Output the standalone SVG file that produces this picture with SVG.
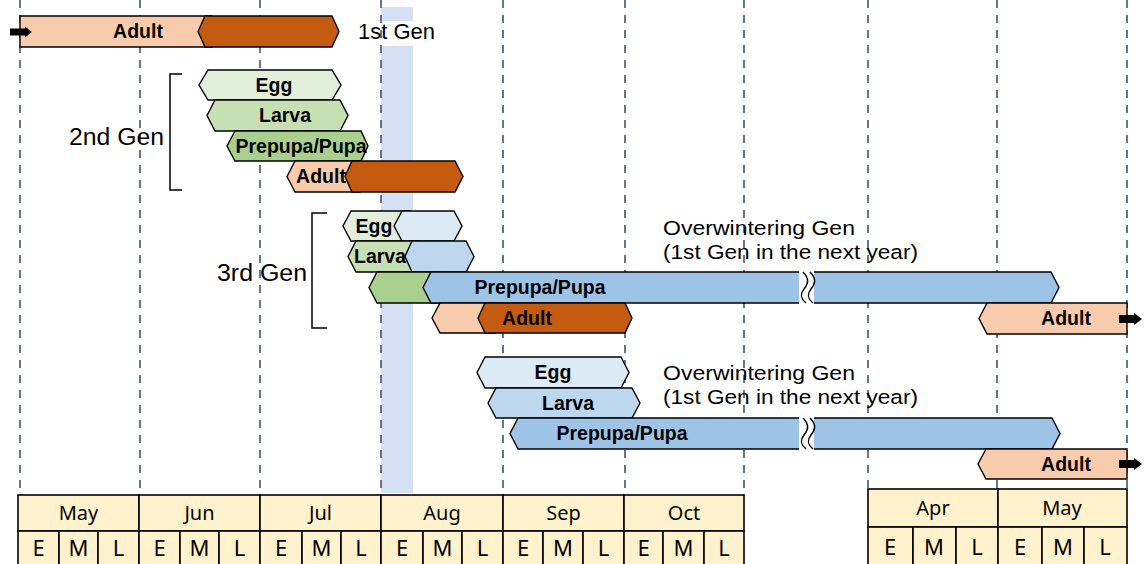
<svg xmlns="http://www.w3.org/2000/svg" width="1146" height="564" viewBox="0 0 1146 564">
<style>
.bar{stroke:#000;stroke-width:1.4;stroke-linejoin:miter}
.lo{fill:#F8CBAD}.do{fill:#C55A11}
.g1{fill:#E2EFDA}.g2{fill:#C6E0B4}.g3{fill:#A9D08E}
.b1{fill:#DDEBF7}.b2{fill:#BDD7EE}.b3{fill:#9DC3E6}
.lbl{font-family:"Liberation Sans",Arial,sans-serif;font-weight:bold;font-size:19.5px;text-anchor:middle;fill:#000}
.gen{font-family:"Liberation Sans",Arial,sans-serif;font-size:22px;fill:#000}
.gen2{font-family:"Liberation Sans",Arial,sans-serif;font-size:23.5px;fill:#000}
.ow{font-family:"Liberation Sans",Arial,sans-serif;font-size:20.5px;fill:#000}
.mon{font-family:"Noto Sans","Open Sans",sans-serif;font-size:20px;text-anchor:middle;fill:#000}
.eml{font-family:"Noto Sans","Open Sans",sans-serif;font-size:22px;text-anchor:middle;fill:#000}
.dash{stroke:#44546A;stroke-width:1.6;stroke-dasharray:8 7;fill:none}
.cell{fill:#FFF2CC;stroke:#000;stroke-width:1.6}
.brk{fill:none;stroke:#000;stroke-width:1.5}
.wave{fill:none;stroke:#000;stroke-width:1.5}
</style>
<rect x="0" y="0" width="1146" height="564" fill="#fff"/>
<g id="band">
<rect x="381" y="7" width="32" height="486" fill="#D6E0F3"/>
<rect x="352" y="21" width="90" height="25" fill="#fff"/>
</g>
<g id="gridlines">
<line class="dash" x1="20" y1="0" x2="20" y2="495"/>
<line class="dash" x1="140" y1="0" x2="140" y2="495"/>
<line class="dash" x1="260" y1="0" x2="260" y2="495"/>
<line class="dash" x1="381" y1="0" x2="381" y2="495"/>
<line class="dash" x1="503" y1="0" x2="503" y2="495"/>
<line class="dash" x1="625" y1="0" x2="625" y2="495"/>
<line class="dash" x1="744" y1="0" x2="744" y2="495"/>
<line class="dash" x1="868" y1="0" x2="868" y2="489"/>
<line class="dash" x1="997" y1="0" x2="997" y2="489"/>
<line class="dash" x1="1127" y1="0" x2="1127" y2="489"/>
</g>
<g id="gen1">
<polygon class="bar lo" points="20,16 212,16 212,47 20,47"/>
<polygon class="bar do" points="198,31.5 205,16 332,16 339,31.5 332,47 205,47"/>
<text class="lbl" x="138" y="38">Adult</text>
<text class="gen" x="358" y="39">1st Gen</text>
</g>
<g id="gen2">
<path class="brk" d="M182,74 H170 V190 H182"/>
<text class="gen2" x="69" y="145" textLength="95" lengthAdjust="spacingAndGlyphs">2nd Gen</text>
<polygon class="bar g1" points="199,85 208,70 332,70 341,85 332,100 208,100"/>
<text class="lbl" x="274" y="92">Egg</text>
<polygon class="bar g2" points="207,115.5 215,100 340,100 348,115.5 340,131 215,131"/>
<text class="lbl" x="285" y="122">Larva</text>
<polygon class="bar g3" points="227,146 235,131 361,131 368,146 361,161 235,161"/>
<text class="lbl" x="301" y="153">Prepupa/Pupa</text>
<polygon class="bar lo" points="287,176.5 295,161 360,161 360,192 295,192"/>
<text class="lbl" x="321" y="183">Adult</text>
<polygon class="bar do" points="345,176.5 352,161 455,161 463,176.5 455,192 352,192"/>
</g>
<g id="gen3">
<path class="brk" d="M327,213 H312 V328 H327"/>
<text class="gen2" x="217" y="281" textLength="90" lengthAdjust="spacingAndGlyphs">3rd Gen</text>
<polygon class="bar g1" points="343,226 351,211 410,211 410,241 351,241"/>
<text class="lbl" x="374" y="233">Egg</text>
<polygon class="bar b1" points="394,226 402,211 454,211 462,226 454,241 402,241"/>
<polygon class="bar g2" points="348,256.5 356,241 420,241 420,272 356,272"/>
<text class="lbl" x="380" y="263">Larva</text>
<polygon class="bar b2" points="405,256.5 412,241 466,241 474,256.5 466,272 412,272"/>
<polygon class="bar g3" points="369,287.5 377,272 440,272 440,303 377,303"/>
<polygon class="bar b3" points="423,287.5 431,272 1051,272 1059,287.5 1051,303 431,303"/>
<rect x="799" y="270" width="15" height="35" fill="#fff"/>
<path class="wave" d="M803,272 C810,279 808,284 804,289 C800,294 800,298 806,303"/>
<path class="wave" d="M810,272 C817,279 815,284 811,289 C807,294 807,298 813,303"/>
<text class="lbl" x="540" y="294">Prepupa/Pupa</text>
<polygon class="bar lo" points="432,318 440,303 495,303 495,333 440,333"/>
<polygon class="bar do" points="478,318 485,303 625,303 632,318 625,333 485,333"/>
<text class="lbl" x="527" y="325">Adult</text>
<text class="ow" x="663" y="235" textLength="192" lengthAdjust="spacingAndGlyphs">Overwintering Gen</text>
<text class="ow" x="663" y="259" textLength="255" lengthAdjust="spacingAndGlyphs">(1st Gen in the next year)</text>
<polygon class="bar lo" points="979,318.5 987,303 1127,303 1127,334 987,334"/>
<text class="lbl" x="1066" y="325">Adult</text>
</g>
<g id="gen4">
<polygon class="bar b1" points="477,372.5 485,357 621,357 629,372.5 621,388 485,388"/>
<text class="lbl" x="553" y="379">Egg</text>
<polygon class="bar b2" points="488,403 496,388 632,388 640,403 632,418 496,418"/>
<text class="lbl" x="568" y="410">Larva</text>
<polygon class="bar b3" points="510,433.5 518,418 1052,418 1060,433.5 1052,449 518,449"/>
<rect x="799" y="416" width="15" height="35" fill="#fff"/>
<path class="wave" d="M803,418 C810,425 808,430 804,435 C800,440 800,444 806,449"/>
<path class="wave" d="M810,418 C817,425 815,430 811,435 C807,440 807,444 813,449"/>
<text class="lbl" x="622" y="440">Prepupa/Pupa</text>
<text class="ow" x="663" y="380" textLength="192" lengthAdjust="spacingAndGlyphs">Overwintering Gen</text>
<text class="ow" x="663" y="404" textLength="255" lengthAdjust="spacingAndGlyphs">(1st Gen in the next year)</text>
<polygon class="bar lo" points="978,464 986,449 1127,449 1127,479 986,479"/>
<text class="lbl" x="1066" y="471">Adult</text>
</g>
<g id="connectors">
<polygon fill="#000" points="10,28.5 25,28.5 25,26.5 32,32 25,37.5 25,35.5 10,35.5"/>
<polygon fill="#000" points="1119,315 1134,315 1134,313 1142,319 1134,325 1134,323 1119,323"/>
<polygon fill="#000" points="1119,460 1134,460 1134,458 1142,464 1134,470 1134,468 1119,468"/>
</g>
<g id="axis-left">
<rect class="cell" x="18" y="495" width="121" height="36"/>
<rect class="cell" x="139" y="495" width="121" height="36"/>
<rect class="cell" x="260" y="495" width="121" height="36"/>
<rect class="cell" x="381" y="495" width="122" height="36"/>
<rect class="cell" x="503" y="495" width="121" height="36"/>
<rect class="cell" x="624" y="495" width="120" height="36"/>
<rect class="cell" x="18" y="531" width="41" height="36"/>
<rect class="cell" x="59" y="531" width="39" height="36"/>
<rect class="cell" x="98" y="531" width="41" height="36"/>
<rect class="cell" x="139" y="531" width="41" height="36"/>
<rect class="cell" x="180" y="531" width="39" height="36"/>
<rect class="cell" x="219" y="531" width="41" height="36"/>
<rect class="cell" x="260" y="531" width="42" height="36"/>
<rect class="cell" x="302" y="531" width="39" height="36"/>
<rect class="cell" x="341" y="531" width="40" height="36"/>
<rect class="cell" x="381" y="531" width="42" height="36"/>
<rect class="cell" x="423" y="531" width="39" height="36"/>
<rect class="cell" x="462" y="531" width="41" height="36"/>
<rect class="cell" x="503" y="531" width="40" height="36"/>
<rect class="cell" x="543" y="531" width="40" height="36"/>
<rect class="cell" x="583" y="531" width="41" height="36"/>
<rect class="cell" x="624" y="531" width="39" height="36"/>
<rect class="cell" x="663" y="531" width="41" height="36"/>
<rect class="cell" x="704" y="531" width="40" height="36"/>
<text class="mon" x="78.5" y="520">May</text>
<text class="mon" x="199.5" y="520">Jun</text>
<text class="mon" x="320.5" y="520">Jul</text>
<text class="mon" x="442" y="520">Aug</text>
<text class="mon" x="563.5" y="520">Sep</text>
<text class="mon" x="684" y="520">Oct</text>
<text class="eml" x="38.5" y="556">E</text><text class="eml" x="78.5" y="556">M</text><text class="eml" x="118.5" y="556">L</text>
<text class="eml" x="159.5" y="556">E</text><text class="eml" x="199.5" y="556">M</text><text class="eml" x="239.5" y="556">L</text>
<text class="eml" x="281" y="556">E</text><text class="eml" x="321.5" y="556">M</text><text class="eml" x="361" y="556">L</text>
<text class="eml" x="402" y="556">E</text><text class="eml" x="442.5" y="556">M</text><text class="eml" x="482.5" y="556">L</text>
<text class="eml" x="523" y="556">E</text><text class="eml" x="563" y="556">M</text><text class="eml" x="603.5" y="556">L</text>
<text class="eml" x="643.5" y="556">E</text><text class="eml" x="683.5" y="556">M</text><text class="eml" x="724" y="556">L</text>
</g>
<g id="axis-right">
<rect class="cell" x="868" y="489" width="130" height="38"/>
<rect class="cell" x="998" y="489" width="129" height="38"/>
<rect class="cell" x="868" y="527" width="45" height="40"/>
<rect class="cell" x="913" y="527" width="43" height="40"/>
<rect class="cell" x="956" y="527" width="42" height="40"/>
<rect class="cell" x="998" y="527" width="44" height="40"/>
<rect class="cell" x="1042" y="527" width="42" height="40"/>
<rect class="cell" x="1084" y="527" width="43" height="40"/>
<text class="mon" x="933" y="515">Apr</text>
<text class="mon" x="1062" y="515">May</text>
<text class="eml" x="890" y="555">E</text><text class="eml" x="934" y="555">M</text><text class="eml" x="977" y="555">L</text>
<text class="eml" x="1020" y="555">E</text><text class="eml" x="1063" y="555">M</text><text class="eml" x="1105" y="555">L</text>
</g>
</svg>
